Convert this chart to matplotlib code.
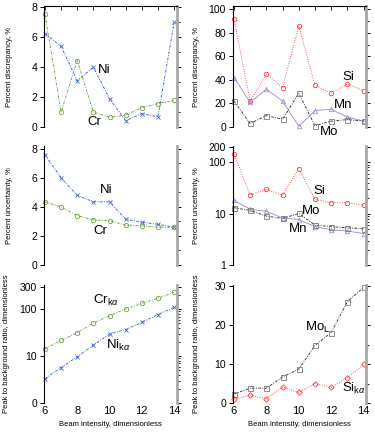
import matplotlib.pyplot as plt
import matplotlib as mpl
from matplotlib.ticker import FixedLocator, NullFormatter

mpl.rcParams['font.family'] = 'Liberation Sans'
mpl.rcParams['mathtext.fontset'] = 'custom'
mpl.rcParams['mathtext.rm'] = 'Liberation Sans'
mpl.rcParams['mathtext.it'] = 'Liberation Sans:italic'

# Beam intensity
beam = [6, 7, 8, 9, 10, 11, 12, 13, 14]

# Percent discrepancy
disc_ni = [6.25, 5.4, 3.1, 4.0, 1.9, 0.42, 0.9, 0.68, 7.0]
disc_cr = [7.55, 1.0, 4.45, 1.0, 0.65, 0.8, 1.3, 1.57, 1.78]
disc_si = [91.5, 22, 45, 33.5, 86, 35.5, 28.7, 36.6, 31]
disc_mn = [42, 21, 32, 22, 0.6, 14, 15, 8.5, 5]
disc_mo = [22, 3, 9.7, 6.5, 28.7, 1, 5, 6.3, 5]

# Percent uncertainty
unc_ni = [7.6, 6.0, 4.8, 4.35, 4.35, 3.15, 2.95, 2.8, 2.6]
unc_cr = [4.35, 4.0, 3.4, 3.1, 3.05, 2.75, 2.7, 2.6, 2.6]
unc_si = [148, 23, 30, 23, 76, 19, 16.4, 16.4, 14.6]
unc_mn = [18.2, 12.2, 11.1, 8.3, 7.7, 5.6, 4.85, 4.6, 4.1]
unc_mo = [13.1, 11.6, 9.0, 8.1, 10.1, 6.0, 5.6, 5.3, 5.1]

# Peak to background ratio
pb_cr = [14.4, 21.7, 31.6, 51, 73, 101, 134, 172, 231]
pb_ni = [3.3, 5.7, 9.7, 17.2, 29.6, 37, 52.6, 77, 110]
pb_mo = [2.3, 3.8, 3.8, 6.7, 8.7, 14.8, 18.1, 26, 29.7]
pb_si = [1.0, 2.0, 1.1, 4.1, 2.7, 5.0, 4.0, 6.5, 9.9]

BLUE = '#3d63c9'
GREEN = '#6fa24a'
RED = '#ff3b3b'
PURPLE = '#a98ad6'
GRAY = '#7a7a7a'
DASHDOT = (0, (3, 1.5, 1, 1.5))

fig = plt.figure(figsize=(3.75, 4.34), dpi=100)

W, H = 375.0, 434.0
cols = [(44, 176.5), (233, 366)]
rows = [(6, 127), (146, 265), (285, 403)]
axes = {}
for r, (t, b) in enumerate(rows):
    for c, (l, rr) in enumerate(cols):
        ax = fig.add_axes([l / W, 1 - b / H, (rr - l) / W, (b - t) / H])
        ax.set_xlim(5.94, 14.15)
        ax.spines['bottom'].set_visible(False)
        ax.spines['top'].set_visible(r == 0)
        ax.spines['left'].set_linewidth(0.8)
        ax.spines['top'].set_linewidth(0.8)
        ax.spines['right'].set_color('#a8a8a8')
        ax.spines['right'].set_linewidth(2)
        ax.tick_params(axis='y', left=True, right=True, direction='out',
                       labelsize=7.5, length=3, width=0.7, pad=2)
        ax.tick_params(axis='y', which='minor', left=False, right=True,
                       direction='out', length=2, width=0.6)
        ax.tick_params(axis='x', bottom=False, top=(r == 0), direction='in',
                       labelbottom=(r == 2), labelsize=8, length=3, width=0.6, pad=2)
        ax.set_xticks(beam if r == 0 else [6, 8, 10, 12, 14])
        ax.patch.set_visible(False)
        axes[(r, c)] = ax

ylab_kw = dict(fontsize=5.5)
mk = dict(markersize=3.2, markerfacecolor='none', markeredgewidth=0.6, linewidth=0.65,
          clip_on=False)
mo_kw = dict(color='#333333', marker='s', linestyle=DASHDOT, markeredgecolor=GRAY,
             markersize=3.6, markerfacecolor='none', markeredgewidth=0.6, linewidth=0.65,
             clip_on=False)
txt = dict(fontsize=9.5, va='center', ha='left')


def ylabel(ax, s, x):
    ax.set_ylabel(s, **ylab_kw)
    ax.yaxis.set_label_coords(x, 0.5)


# Top-left: discrepancy Ni, Cr
ax = axes[(0, 0)]
ax.plot(beam, disc_ni, color=BLUE, marker='x', linestyle=DASHDOT, **mk)
ax.plot(beam, disc_cr, color=GREEN, marker='o', linestyle=DASHDOT, **mk)
ax.set_ylim(0, 8.1)
ax.set_yticks([0, 2, 4, 6, 8])
ax.yaxis.set_minor_locator(FixedLocator([1, 3, 5, 7]))
ylabel(ax, 'Percent discrepancy, %', -0.234)
ax.text(9.3, 3.8, 'Ni', **txt)
ax.text(8.6, 0.35, 'Cr', **txt)

# Top-right: discrepancy Si, Mn, Mo
ax = axes[(0, 1)]
ax.plot(beam, disc_si, color=RED, marker='o', linestyle=':', **mk)
ax.plot(beam, disc_mn, color=PURPLE, marker='^', linestyle='-', **mk)
ax.plot(beam, disc_mo, **mo_kw)
ax.set_ylim(0, 102.8)
ax.set_yticks([0, 20, 40, 60, 80, 100])
ax.yaxis.set_minor_locator(FixedLocator([10, 30, 50, 70, 90]))
ylabel(ax, 'Percent discrepancy, %', -0.248)
ax.text(12.7, 42.5, 'Si', **txt)
ax.text(12.15, 18.7, 'Mn', **txt)
ax.text(11.3, -4.2, 'Mo', clip_on=False, **txt)

# Middle-left: uncertainty Ni, Cr
ax = axes[(1, 0)]
ax.plot(beam, unc_ni, color=BLUE, marker='x', linestyle=DASHDOT, **mk)
ax.plot(beam, unc_cr, color=GREEN, marker='o', linestyle=DASHDOT, **mk)
ax.set_ylim(0, 8.2)
ax.set_yticks([0, 2, 4, 6, 8])
ax.yaxis.set_minor_locator(FixedLocator([1, 3, 5, 7]))
ylabel(ax, 'Percent uncertainty, %', -0.234)
ax.text(9.4, 5.2, 'Ni', **txt)
ax.text(9.0, 2.35, 'Cr', **txt)

# Middle-right: uncertainty Si, Mn, Mo (log)
ax = axes[(1, 1)]
ax.set_yscale('log')
ax.plot(beam, unc_si, color=RED, marker='o', linestyle=':', **mk)
ax.plot(beam, unc_mn, color=PURPLE, marker='^', linestyle='-', **mk)
ax.plot(beam, unc_mo, **mo_kw)
ax.set_ylim(1, 209)
ax.set_yticks([1, 10, 100, 200])
ax.set_yticklabels(['1', '10', '100', '200'])
ax.yaxis.set_minor_formatter(NullFormatter())
ylabel(ax, 'Percent uncertainty, %', -0.248)
ax.text(10.9, 27.7, 'Si', **txt)
ax.text(10.2, 11.3, 'Mo', **txt)
ax.text(9.4, 5.0, 'Mn', **txt)

# Bottom-left: peak to background Cr, Ni (log)
ax = axes[(2, 0)]
ax.set_yscale('log')
ax.plot(beam, pb_cr, color=GREEN, marker='o', linestyle=DASHDOT, **mk)
ax.plot(beam, pb_ni, color=BLUE, marker='x', linestyle=DASHDOT, **mk)
ax.set_ylim(1, 330)
ax.set_yticks([1, 10, 100, 300])
ax.set_yticklabels(['0', '10', '100', '300'])
ax.yaxis.set_minor_formatter(NullFormatter())
ylabel(ax, 'Peak to background ratio, dimensionless', -0.257)
ax.set_xlabel('Beam intensity, dimensionless', fontsize=5.5, labelpad=4)
ax.text(9.0, 155, r'Cr$_{\mathrm{k}\alpha}$', **txt)
ax.text(9.8, 17, r'Ni$_{\mathrm{k}\alpha}$', **txt)

# Bottom-right: peak to background Mo, Si
ax = axes[(2, 1)]
ax.plot(beam, pb_mo, **mo_kw)
ax.plot(beam, pb_si, color=RED, marker='D', linestyle=':', markersize=2.8,
        markerfacecolor='none', markeredgewidth=0.6, linewidth=0.65, clip_on=False)
ax.set_ylim(0, 30.3)
ax.set_yticks([0, 10, 20, 30])
ax.yaxis.set_minor_locator(FixedLocator([5, 15, 25]))
ylabel(ax, 'Peak to background ratio, dimensionless', -0.248)
ax.set_xlabel('Beam intensity, dimensionless', fontsize=5.5, labelpad=4)
ax.text(10.4, 19.5, r'Mo$_{\mathrm{L}}$', **txt)
ax.text(12.65, 3.85, r'Si$_{\mathrm{k}\alpha}$', **txt)

fig.savefig('out.png', dpi=100)
